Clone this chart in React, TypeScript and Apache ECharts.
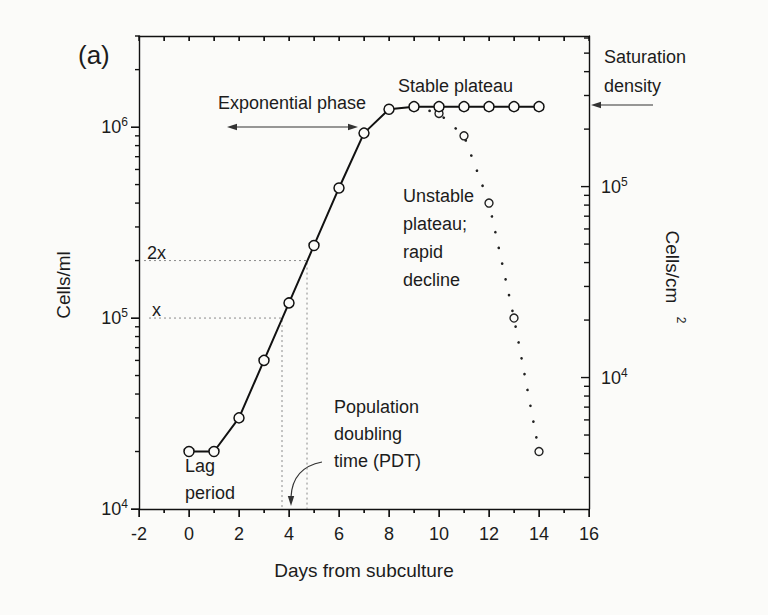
import React, { useEffect, useRef } from "react";
import * as echarts from "echarts";

// ---- data ----
const DAYS = [0, 1, 2, 3, 4, 5, 6, 7, 8, 9, 10, 11, 12, 13, 14];
const CELLS_PER_ML = [2.0e4, 2.0e4, 3.0e4, 6.0e4, 1.2e5, 2.4e5, 4.8e5, 9.3e5, 1.24e6, 1.28e6, 1.28e6, 1.28e6, 1.28e6, 1.28e6, 1.28e6];
const DECLINE_DAYS = [9, 10, 11, 12, 13, 14];
const DECLINE_CELLS = [1.28e6, 1.18e6, 9.0e5, 4.0e5, 1.0e5, 2.0e4];

const X_MIN = -2;
const X_MAX = 16;
const X_TICKS = [-2, 0, 2, 4, 6, 8, 10, 12, 14, 16];
const X_MINOR_TICKS = [-1, 1, 3, 5, 7, 9, 11, 13, 15];
const Y_MIN = 1e4;
const Y_MAX = 3e6;
const LEFT_DECADES = [1e4, 1e5, 1e6];
const RIGHT_DECADES = [1e4, 1e5];
const CM2_FACTOR = 4.88; // cells/ml -> cells/cm2 alignment of the right axis

// population doubling time guides
const X_LEVEL = 1e5;
const X2_LEVEL = 2e5;
const X_DAY = 3.72;
const X2_DAY = 4.72;
const GUIDE_START_DAY = -1.6;
const GUIDE2_START_DAY = -1.8;

const FONT = "'Liberation Sans', Arial, Helvetica, sans-serif";
const INK = "#111";
const TEXT = "#1c1c1c";
const BG = "#fbfbf9";

const GRID = { left: 139, top: 36, right: 179, bottom: 106 };
const W = 768;
const H = 615;

const L = (v: number) => Math.log10(v);

function minorLogValues(lo: number, hi: number): number[] {
  const out: number[] = [];
  for (let e = 2; e <= 7; e++) {
    for (let k = 2; k <= 9; k++) {
      const v = k * Math.pow(10, e);
      if (v >= lo && v <= hi) out.push(v);
    }
  }
  return out;
}

export default function App() {
  const ref = useRef<HTMLDivElement>(null);

  useEffect(() => {
    if (!ref.current) return;
    const chart = echarts.init(ref.current, undefined, { renderer: "svg" });

    const rMin = Y_MIN / CM2_FACTOR;
    const rMax = Y_MAX / CM2_FACTOR;
    const yLo = L(Y_MIN);
    const yHi = L(Y_MAX);
    const rLo = L(rMin);
    const rHi = L(rMax);

    const labelRich = {
      b: { fontSize: 18, fontFamily: FONT, color: TEXT },
      s: { fontSize: 12, fontFamily: FONT, color: TEXT, padding: [0, 0, 10, 0] },
    };
    const powFormatter = (v: number) => `{b|10}{s|${Math.round(v)}}`;

    const option: any = {
      animation: false,
      backgroundColor: BG,
      grid: GRID,
      xAxis: [
        {
          type: "value",
          position: "bottom",
          min: X_MIN,
          max: X_MAX,
          interval: 2,
          axisLine: { show: true, onZero: false, lineStyle: { color: INK, width: 1.4 } },
          axisTick: { show: true, length: 8, lineStyle: { color: INK } },
          minorTick: { show: true, splitNumber: 2, length: 4, lineStyle: { color: INK } },
          splitLine: { show: false },
          axisLabel: { margin: 16, fontSize: 18, fontFamily: FONT, color: TEXT },
        },
        {
          type: "value",
          position: "top",
          min: X_MIN,
          max: X_MAX,
          interval: 1,
          axisLine: { show: true, onZero: false, lineStyle: { color: INK, width: 1.4 } },
          axisTick: { show: true, inside: true, length: 5, lineStyle: { color: INK } },
          splitLine: { show: false },
          axisLabel: { show: false },
        },
      ],
      yAxis: [
        {
          type: "value",
          position: "left",
          min: yLo,
          max: yHi,
          axisLine: { show: true, onZero: false, lineStyle: { color: INK, width: 1.4 } },
          axisTick: { show: true, length: 8, customValues: LEFT_DECADES.map(L), lineStyle: { color: INK } },
          axisLabel: { margin: 11, customValues: LEFT_DECADES.map(L), formatter: powFormatter, rich: labelRich },
          splitLine: { show: false },
        },
        {
          type: "value",
          position: "right",
          min: rLo,
          max: rHi,
          axisLine: { show: true, onZero: false, lineStyle: { color: INK, width: 1.4 } },
          axisTick: { show: true, inside: true, length: 8, customValues: RIGHT_DECADES.map(L), lineStyle: { color: INK } },
          axisLabel: { margin: 12, customValues: RIGHT_DECADES.map(L), formatter: powFormatter, rich: labelRich },
          splitLine: { show: false },
        },
      ],
      series: [
        {
          name: "guide x",
          type: "line",
          symbol: "none",
          z: 1,
          data: [
            [GUIDE_START_DAY, L(X_LEVEL)],
            [X_DAY, L(X_LEVEL)],
            [X_DAY, yLo],
          ],
          lineStyle: { color: "#8a8a8a", width: 1, type: [2, 3] },
        },
        {
          name: "guide 2x",
          type: "line",
          symbol: "none",
          z: 1,
          data: [
            [GUIDE2_START_DAY, L(X2_LEVEL)],
            [X2_DAY, L(X2_LEVEL)],
            [X2_DAY, yLo],
          ],
          lineStyle: { color: "#8a8a8a", width: 1, type: [2, 3] },
        },
        {
          name: "decline",
          type: "line",
          z: 2,
          symbol: "circle",
          symbolSize: 8,
          itemStyle: { color: BG, borderColor: "#222", borderWidth: 1.4 },
          lineStyle: { color: "#222", width: 2.6, type: [0.1, 16], cap: "round" },
          data: DECLINE_DAYS.map((d, i) =>
            i === 0 ? { value: [d, L(DECLINE_CELLS[i])], symbol: "none" } : [d, L(DECLINE_CELLS[i])]
          ),
        },
        {
          name: "cells",
          type: "line",
          z: 3,
          symbol: "circle",
          symbolSize: 10,
          itemStyle: { color: BG, borderColor: INK, borderWidth: 1.5 },
          lineStyle: { color: INK, width: 2 },
          data: DAYS.map((d, i) => [d, L(CELLS_PER_ML[i])]),
        },
      ],
    };

    chart.setOption(option);

    // tick positions from the chart's own cartesian (fallback: grid geometry)
    const gw = W - GRID.left - GRID.right;
    const gh = H - GRID.top - GRID.bottom;
    const toPx = (x: number, y: number, right: boolean): number[] => {
      let p: any = null;
      try {
        p = chart.convertToPixel(
          (right ? { xAxisIndex: 0, yAxisIndex: 1 } : { gridIndex: 0 }) as any,
          [x, y]
        );
      } catch (e) {
        p = null;
      }
      if (Array.isArray(p) && isFinite(p[0]) && isFinite(p[1])) return p as number[];
      const lo = right ? rLo : yLo;
      const hi = right ? rHi : yHi;
      return [
        GRID.left + ((x - X_MIN) / (X_MAX - X_MIN)) * gw,
        GRID.top + gh - ((y - lo) / (hi - lo)) * gh,
      ];
    };

    // ticks as thin filled rectangles (dx/dy: direction and length)
    const T = 1.4;
    const tick = (p: number[], dx: number, dy: number) => {
      const vertical = dx === 0;
      const x = vertical ? p[0] - T / 2 : Math.min(p[0], p[0] + dx);
      const y = vertical ? Math.min(p[1], p[1] + dy) : p[1] - T / 2;
      const w = vertical ? T : Math.abs(dx);
      const h = vertical ? Math.abs(dy) : T;
      return { type: "rect", shape: { x, y, width: w, height: h }, style: { fill: INK } };
    };

    const ticks: any[] = [];
    X_TICKS.forEach((v) => {
      ticks.push(tick(toPx(v, yLo, false), 0, 8));
      ticks.push(tick(toPx(v, yHi, false), 0, 5));
    });
    X_MINOR_TICKS.forEach((v) => {
      ticks.push(tick(toPx(v, yLo, false), 0, 4));
      ticks.push(tick(toPx(v, yHi, false), 0, 5));
    });
    LEFT_DECADES.forEach((v) => ticks.push(tick(toPx(X_MIN, L(v), false), -8, 0)));
    minorLogValues(Y_MIN, Y_MAX).forEach((v) => ticks.push(tick(toPx(X_MIN, L(v), false), -4, 0)));
    RIGHT_DECADES.forEach((v) => ticks.push(tick(toPx(X_MAX, L(v), true), -8, 0)));
    minorLogValues(rMin, rMax).forEach((v) => ticks.push(tick(toPx(X_MAX, L(v), true), -5, 0)));

    const annotations: any[] = [
      txt("(a)", 78, 55, 26, { verticalAlign: "middle" }),
      txt("Exponential phase", 218, 103, 18, { verticalAlign: "middle" }),
      txt("Stable plateau", 398, 86, 18, { verticalAlign: "middle" }),
      txt("Saturation\ndensity", 604, 42.5, 18, { verticalAlign: "top", lineHeight: 29 }),
      txt("Unstable\nplateau;\nrapid\ndecline", 403, 182, 18, { verticalAlign: "top", lineHeight: 28 }),
      txt("Population\ndoubling\ntime (PDT)", 334, 393.5, 18, { verticalAlign: "top", lineHeight: 27 }),
      txt("Lag\nperiod", 185, 452.5, 18, { verticalAlign: "top", lineHeight: 27 }),
      txt("2x", 147, 253, 18, { verticalAlign: "middle" }),
      txt("x", 152, 310, 18, { verticalAlign: "middle" }),
      txt("Days from subculture", 364, 570, 19, { align: "center", verticalAlign: "middle" }),
      txt("Cells/ml", 63, 285, 19, { align: "center", verticalAlign: "middle" }, Math.PI / 2),
      txt("Cells/cm", 672, 267, 19, { align: "center", verticalAlign: "middle" }, -Math.PI / 2),
      txt("2", 681, 320, 12, { align: "center", verticalAlign: "middle" }, -Math.PI / 2),
      // exponential double arrow
      { type: "line", shape: { x1: 230, y1: 127, x2: 355, y2: 127 }, style: { stroke: "#333", lineWidth: 1.2 } },
      { type: "polygon", shape: { points: [[227, 127], [237, 123.8], [237, 130.2]] }, style: { fill: "#333" } },
      { type: "polygon", shape: { points: [[358, 127], [348, 123.8], [348, 130.2]] }, style: { fill: "#333" } },
      // saturation arrow
      { type: "line", shape: { x1: 595, y1: 105, x2: 653, y2: 105 }, style: { stroke: "#333", lineWidth: 1.2 } },
      { type: "polygon", shape: { points: [[591, 105], [601, 101.8], [601, 108.2]] }, style: { fill: "#333" } },
      // PDT curved arrow
      {
        type: "bezierCurve",
        shape: { x1: 322, y1: 462, cpx1: 301, cpy1: 466, cpx2: 292, cpy2: 478, x2: 291, y2: 497 },
        style: { stroke: "#333", lineWidth: 1.2, fill: null },
      },
      { type: "polygon", shape: { points: [[291, 506], [287.8, 496], [294.2, 496]] }, style: { fill: "#333" } },
    ];

    chart.setOption({ graphic: [...annotations, ...ticks] });
    return () => chart.dispose();
  }, []);

  return (
    <div
      ref={ref}
      style={{ position: "fixed", left: 0, top: 0, width: W, height: H, background: BG }}
    />
  );
}

function txt(
  text: string,
  x: number,
  y: number,
  fontSize: number,
  extra: { align?: string; verticalAlign?: string; lineHeight?: number },
  rotation = 0
) {
  const align = extra.align || "left";
  const verticalAlign = extra.verticalAlign || "middle";
  return {
    type: "text",
    x,
    y,
    rotation,
    style: {
      text,
      fill: TEXT,
      fontSize,
      fontFamily: FONT,
      align,
      verticalAlign,
      textAlign: align,
      textVerticalAlign: verticalAlign,
      lineHeight: extra.lineHeight,
    },
  };
}
